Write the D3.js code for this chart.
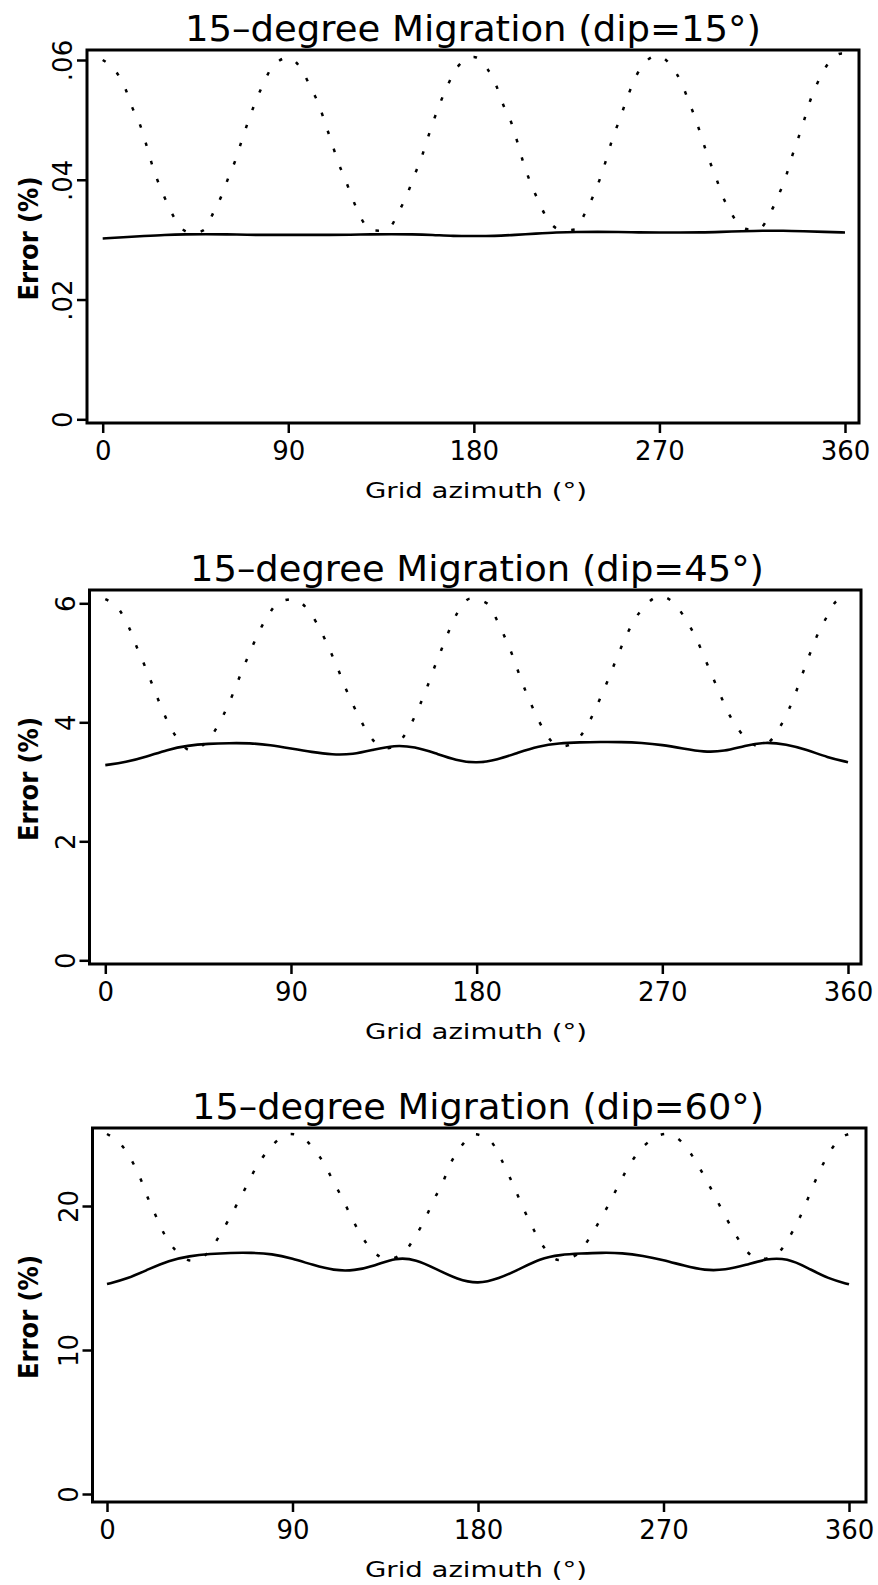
<!DOCTYPE html>
<html><head><meta charset="utf-8">
<script src="https://cdn.jsdelivr.net/npm/d3@7"></script>
<style>body{margin:0;background:#fff}svg{display:block}</style>
</head><body>
<svg id="c" width="878" height="1585"></svg>
<script>
// ---------- data ----------
const xTicks = [0, 90, 180, 270, 360];
const xTickLabels = ["0", "90", "180", "270", "360"];
const titles = ["15–degree Migration (dip=15°)", "15–degree Migration (dip=45°)", "15–degree Migration (dip=60°)"];
const xTitle = "Grid azimuth (°)";
const yTitle = "Error (%)";

const yTicks15 = [0, 0.02, 0.04, 0.06];
const yLabels15 = ["0", ".02", ".04", ".06"];
const yTicks45 = [0, 2, 4, 6];
const yLabels45 = ["0", "2", "4", "6"];
const yTicks60 = [0, 10, 20];
const yLabels60 = ["0", "10", "20"];

// solid line, sampled every 10 degrees
const solidAz = [0,10,20,30,40,50,60,70,80,90,100,110,120,130,140,150,160,170,180,190,200,210,220,230,240,250,260,270,280,290,300,310,320,330,340,350,360];
const solid15 = [.0302,.0304,.0306,.0308,.0309,.0309,.0309,.0308,.0308,.0308,.0308,.0308,.0308,.0309,.0309,.0309,.0308,.0306,.0306,.0306,.0308,.0310,.0312,.0313,.0313,.0313,.0312,.0312,.0312,.0312,.0313,.0314,.0315,.0315,.0314,.0313,.0312];
const solid45 = [3.28,3.33,3.42,3.54,3.61,3.64,3.65,3.65,3.62,3.56,3.50,3.455,3.46,3.54,3.615,3.59,3.48,3.36,3.31,3.37,3.49,3.60,3.65,3.665,3.67,3.67,3.655,3.62,3.56,3.50,3.51,3.61,3.67,3.63,3.54,3.41,3.33];
const solid60 = [14.58,14.95,15.6,16.22,16.53,16.68,16.75,16.76,16.68,16.35,15.9,15.52,15.5,15.85,16.42,16.3,15.6,14.9,14.58,14.95,15.6,16.35,16.62,16.7,16.76,16.74,16.55,16.25,15.85,15.52,15.55,15.9,16.35,16.38,15.7,14.95,14.56];

// dotted line
const dotAz15 = [0,6.6,11,14.4,18.3,21.2,23.7,26.7,30.6,34.8,40.7,44,49,53.8,57.7,61,64.5,67.4,70.3,73.3,77.2,82,90,
  96.6,101,105,108,111,114,117.6,121,125,130,134,139,143.8,147.7,151,154.5,157.4,160.3,163.3,167.2,172,180,
  186.6,191,194.4,198.3,201.2,203.7,206.7,210.6,214.8,220.7,225,229,234,238,241.5,244.4,247,250.4,253.6,257,261.4,269,
  276,280.8,284.3,287.7,290.8,293.7,297.3,300.5,304.6,310,314,318.4,324,328,331.4,334.4,337.3,340.3,343,346.7,351,358.4,360];
const dot15 = [.0600,.0580,.0552,.0520,.0490,.0458,.0428,.0398,.0366,.0336,.0313,.0311,.0316,.0346,.0374,.0404,.0434,.0465,.0495,.0523,.0555,.0587,.0604,
  .0583,.0553,.0524,.0493,.0463,.0431,.0401,.0370,.0338,.0316,.0315,.0320,.0348,.0376,.0406,.0436,.0467,.0497,.0525,.0557,.0588,.0605,
  .0585,.0556,.0524,.0494,.0462,.0432,.0402,.0370,.0340,.0318,.0316,.0317,.0345,.0374,.0405,.0436,.0466,.0498,.0529,.0560,.0589,.0607,
  .0589,.0561,.0530,.0500,.0467,.0437,.0405,.0374,.0346,.0320,.0317,.0318,.0346,.0376,.0406,.0440,.0469,.0501,.0531,.0562,.0590,.0611,.0611];

const dotAz45 = [0,7.2,11.8,15.3,19,22.6,26,29.8,34.3,41.4,49,55,59,62.7,66.2,69.9,73.8,78.3,84.4,91,
  99.5,104.4,108.5,112.4,115.8,119.5,123.7,128.4,136,143.7,148.5,152.6,156.2,159.5,162.9,166.5,170.5,177,
  185,189.8,193.8,197.4,200.6,204,207.9,212.4,217,222,227,232.6,237,240.7,244.5,248,251.7,256,261.4,269,
  277,282,286.7,290.4,294.2,298,301.7,306.9,312.6,317,321.5,327,331.4,334.8,338,341.3,344.8,349.2,354.2,360];
const dot45 = [6.07,5.87,5.57,5.26,4.96,4.65,4.35,4.04,3.76,3.53,3.67,3.97,4.25,4.55,4.86,5.16,5.47,5.76,6.02,6.07,
  5.83,5.54,5.24,4.93,4.63,4.34,4.04,3.76,3.56,3.72,3.99,4.30,4.61,4.92,5.22,5.53,5.83,6.08,
  6.00,5.72,5.42,5.12,4.81,4.50,4.19,3.88,3.66,3.60,3.66,3.88,4.18,4.47,4.78,5.09,5.39,5.69,5.95,6.12,
  5.95,5.69,5.39,5.09,4.78,4.47,4.18,3.88,3.66,3.60,3.66,3.92,4.22,4.51,4.82,5.13,5.44,5.74,6.03,6.12];

const dotAz60 = [0,7.8,12.7,16.7,20.1,24,28,33.4,41.1,49.2,54.3,59.2,63.7,68.1,72.4,77.8,85,89,
  93.5,100.4,105.7,110,114.4,118.6,123.2,128.6,136,144.4,149.6,154.5,158.5,162.9,166.5,171.4,178.3,
  186.3,191.3,195.3,199.2,203,207.3,212.2,219.1,227.7,233.7,238.5,243,247.4,251.9,257.1,263.9,271,
  280.5,285.7,290.5,294.9,299.4,304,309.1,316,324.6,330.2,334.9,338.6,342.3,346.2,350.7,356.9,360];
const dot60 = [25.0,24.1,22.97,21.74,20.47,19.22,17.99,16.9,16.2,16.8,17.87,19.1,20.3,21.5,22.7,23.8,24.8,25.0,
  24.86,23.96,22.85,21.65,20.47,19.22,17.99,16.94,16.3,16.83,17.9,19.15,20.42,21.62,22.9,24.05,24.98,
  24.47,23.24,22.03,20.76,19.53,18.28,17.1,16.25,16.6,17.69,18.84,20.0,21.23,22.45,23.61,24.58,25.0,
  24.19,23.08,21.88,20.69,19.44,18.26,17.1,16.3,16.6,17.64,18.84,20.0,21.3,22.55,23.77,24.81,25.0];

// ---------- layout ----------
const layout = [
  {l:87,   r:859, t:50,   b:423,  x0:102.7, x1:845, yZero:419.3, yRef:60,    refVal:0.06, tx:473, tLen:576},
  {l:89.5, r:861, t:590,  b:964,  x0:105.3, x1:848, yZero:960.3, yRef:603.3, refVal:6,    tx:477, tLen:574},
  {l:92.5, r:866, t:1128, b:1502, x0:107,   x1:849, yZero:1494,  yRef:1206,  refVal:20,   tx:478, tLen:572}
];
const series = [
  {solid: solid15, dotAz: dotAz15, dot: dot15, yTicks: yTicks15, yLabels: yLabels15},
  {solid: solid45, dotAz: dotAz45, dot: dot45, yTicks: yTicks45, yLabels: yLabels45},
  {solid: solid60, dotAz: dotAz60, dot: dot60, yTicks: yTicks60, yLabels: yLabels60}
];

const svg = d3.select("#c");
const FONT = "'DejaVu Sans', 'Liberation Sans', sans-serif";

layout.forEach((L, i) => {
  const S = series[i];
  const g = svg.append("g");
  const x = d3.scaleLinear().domain([0, 360]).range([L.x0, L.x1]);
  const y = d3.scaleLinear().domain([0, L.refVal]).range([L.yZero, L.yRef]);

  // title
  g.append("text").attr("x", L.tx).attr("y", L.t - 9)
    .attr("text-anchor", "middle").attr("font-family", FONT).attr("font-size", 36)
    .attr("textLength", L.tLen).attr("lengthAdjust", "spacingAndGlyphs")
    .text(titles[i]);

  // frame
  g.append("rect").attr("x", L.l).attr("y", L.t).attr("width", L.r - L.l).attr("height", L.b - L.t)
    .attr("fill", "none").attr("stroke", "#000").attr("stroke-width", 3);

  // x axis
  const xa = g.append("g").attr("transform", `translate(0,${L.b})`)
    .call(d3.axisBottom(x).tickValues(xTicks).tickSize(10).tickFormat((d, k) => xTickLabels[k]));
  xa.select(".domain").remove();
  xa.selectAll(".tick line").attr("stroke", "#000").attr("stroke-width", 2.5);
  xa.selectAll(".tick text").attr("y", 37).attr("dy", 0)
    .attr("font-family", FONT).attr("font-size", 26).attr("fill", "#000");

  // y axis
  const ya = g.append("g").attr("transform", `translate(${L.l},0)`)
    .call(d3.axisLeft(y).tickValues(S.yTicks).tickSize(10).tickFormat((d, k) => S.yLabels[k]));
  ya.select(".domain").remove();
  ya.selectAll(".tick line").attr("stroke", "#000").attr("stroke-width", 2.5);
  ya.selectAll(".tick text")
    .attr("x", null).attr("dy", 0)
    .attr("transform", "translate(-15,0) rotate(-90)")
    .attr("text-anchor", "middle")
    .attr("font-family", FONT).attr("font-size", 26).attr("fill", "#000");

  // axis titles
  g.append("text").attr("x", 476).attr("y", L.b + 75).attr("text-anchor", "middle")
    .attr("font-family", FONT).attr("font-size", 22)
    .attr("textLength", 222).attr("lengthAdjust", "spacingAndGlyphs")
    .text(xTitle);
  const cy = (L.t + L.b) / 2 + 2;
  g.append("text").attr("transform", `translate(38,${cy}) rotate(-90)`)
    .attr("text-anchor", "middle").attr("font-family", FONT).attr("font-size", 27)
    .attr("font-weight", "bold")
    .attr("textLength", 124).attr("lengthAdjust", "spacingAndGlyphs")
    .text(yTitle);

  // solid line
  const solidLine = d3.line().x((d, k) => x(solidAz[k])).y(d => y(d)).curve(d3.curveBasis);
  g.append("path").datum(S.solid).attr("d", solidLine)
    .attr("fill", "none").attr("stroke", "#000").attr("stroke-width", 2.6);

  // dotted line
  const dotLine = d3.line().x((d, k) => x(S.dotAz[k])).y(d => y(d)).curve(d3.curveMonotoneX);
  g.append("path").datum(S.dot).attr("d", dotLine)
    .attr("fill", "none").attr("stroke", "#000").attr("stroke-width", 2.5)
    .attr("stroke-dasharray", "3.5 15.5");
});
</script>
</body></html>
